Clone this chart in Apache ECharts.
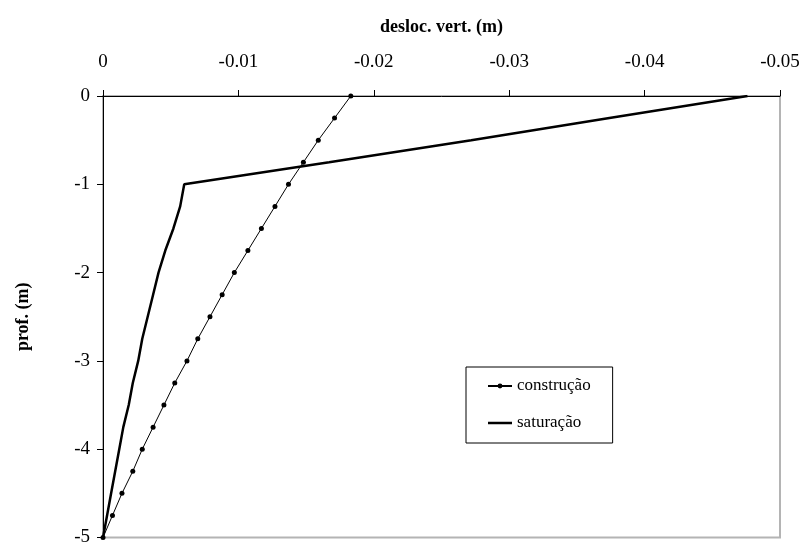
<!DOCTYPE html>
<html>
<head>
<meta charset="utf-8">
<script src="https://cdn.jsdelivr.net/npm/echarts@6/dist/echarts.min.js"></script>
<style>
  html, body { margin: 0; padding: 0; background: #fff; }
  #chart { width: 807px; height: 547px; }
</style>
</head>
<body>
<div id="chart"></div>
<script>
// profundidades (m)
const prof = [0, -0.25, -0.5, -0.75, -1, -1.25, -1.5, -1.75, -2, -2.25, -2.5,
    -2.75, -3, -3.25, -3.5, -3.75, -4, -4.25, -4.5, -4.75, -5];

// deslocamentos verticais (m)
const construcao = [-0.0183, -0.0171, -0.0159, -0.0148, -0.0137, -0.0127, -0.0117,
    -0.0107, -0.0097, -0.0088, -0.0079, -0.0070, -0.0062, -0.0053, -0.0045,
    -0.0037, -0.0029, -0.0022, -0.0014, -0.0007, 0];
const saturacao = [-0.0476, -0.0374, -0.0272, -0.0167, -0.0060, -0.0057, -0.0052,
    -0.0046, -0.0041, -0.0037, -0.0033, -0.0029, -0.0026, -0.0022, -0.0019,
    -0.0015, -0.0012, -0.0009, -0.0006, -0.0003, 0];

const xTicks = { min: -0.05, max: 0, interval: 0.01 };
const yTicks = { min: -5, max: 0, interval: 1 };

const font = 'Liberation Serif';

const chart = echarts.init(document.getElementById('chart'));

chart.setOption({
    animation: false,
    backgroundColor: '#fff',
    grid: {
        left: 103,
        right: 27,
        top: 96,
        bottom: 8,
        show: true,
        borderColor: '#b4b4b4',
        borderWidth: 2
    },
    legend: {
        orient: 'vertical',
        left: 466,
        top: 367,
        padding: [10, 22, 11, 21],
        itemGap: 19,
        itemWidth: 24,
        itemHeight: 6,
        borderColor: '#000',
        borderWidth: 1,
        borderRadius: 0,
        backgroundColor: '#fff',
        textStyle: { fontFamily: font, fontSize: 17, lineHeight: 18, color: '#000' },
        data: [
            { name: 'construção' },
            { name: 'saturação', icon: 'path://M0,0 L24,0 L24,2.5 L0,2.5 Z' }
        ]
    },
    xAxis: {
        type: 'value',
        position: 'top',
        inverse: true,
        min: xTicks.min,
        max: xTicks.max,
        interval: xTicks.interval,
        name: 'desloc. vert. (m)',
        nameLocation: 'middle',
        nameGap: 60,
        nameTextStyle: { fontFamily: font, fontSize: 18, fontWeight: 'bold', color: '#000' },
        axisLine: { onZero: false, lineStyle: { color: '#000', width: 1 } },
        axisTick: { show: true, length: 6, lineStyle: { color: '#000' } },
        axisLabel: { fontFamily: font, fontSize: 19, color: '#000', margin: 24 },
        splitLine: { show: false }
    },
    yAxis: {
        type: 'value',
        min: yTicks.min,
        max: yTicks.max,
        interval: yTicks.interval,
        name: 'prof. (m)',
        nameLocation: 'middle',
        nameGap: 71,
        nameRotate: 90,
        nameTextStyle: { fontFamily: font, fontSize: 18, fontWeight: 'bold', color: '#000' },
        axisLine: { onZero: false, lineStyle: { color: '#000', width: 1 } },
        axisTick: { show: true, length: 6, lineStyle: { color: '#000' } },
        axisLabel: { fontFamily: font, fontSize: 19, color: '#000', margin: 13 },
        splitLine: { show: false }
    },
    series: [
        {
            name: 'construção',
            type: 'line',
            data: prof.map((p, i) => [construcao[i], p]),
            symbol: 'circle',
            symbolSize: 5,
            lineStyle: { color: '#000', width: 1 },
            itemStyle: { color: '#000' }
        },
        {
            name: 'saturação',
            type: 'line',
            data: prof.map((p, i) => [saturacao[i], p]),
            symbol: 'none',
            lineStyle: { color: '#000', width: 2.5 },
            itemStyle: { color: '#000' }
        }
    ]
});
</script>
</body>
</html>
